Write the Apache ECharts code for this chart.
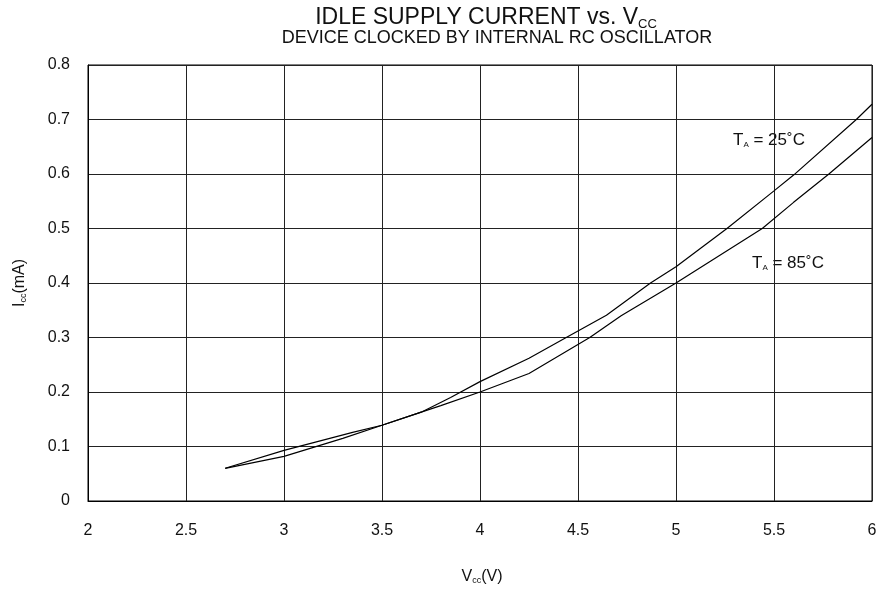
<!DOCTYPE html>
<html><head><meta charset="utf-8">
<script src="https://cdn.jsdelivr.net/npm/echarts@6/dist/echarts.min.js"></script>
<style>html,body{margin:0;padding:0;background:#fff}#c{width:888px;height:594px}</style>
</head><body><div id="c"></div>
<script>
const xTicks = [2, 2.5, 3, 3.5, 4, 4.5, 5, 5.5, 6];
const yTicks = [0, 0.1, 0.2, 0.3, 0.4, 0.5, 0.6, 0.7, 0.8];
const vcc25 = [2.7, 3.0, 3.35, 3.5, 3.7, 3.85, 4.0, 4.25, 4.44, 4.645, 4.87, 5.0, 5.26, 5.5, 5.6, 5.92, 6.0];
const icc25 = [0.06, 0.093, 0.126, 0.139, 0.163, 0.19, 0.219, 0.262, 0.30, 0.341, 0.40, 0.43, 0.50, 0.569, 0.598, 0.70, 0.728];
const vcc85 = [2.7, 3.0, 3.3, 3.5, 3.7, 3.8, 4.0, 4.25, 4.56, 4.72, 5.0, 5.44, 5.6, 5.78, 6.0];
const icc85 = [0.06, 0.082, 0.115, 0.139, 0.163, 0.175, 0.20, 0.234, 0.30, 0.34, 0.40, 0.50, 0.548, 0.60, 0.667];
const seriesNames = ['T_A = 25°C', 'T_A = 85°C'];

const chart = echarts.init(document.getElementById('c'), null, {renderer: 'canvas'});
const font = 'Liberation Sans, Arial, Helvetica, sans-serif';
const pair = (xs, ys) => xs.map((x, i) => [x, ys[i]]);
const sub = (fs, sfs, pad) => ({
  m: {fontSize: fs, fontFamily: font, fill: '#111'},
  s: {fontSize: sfs, fontFamily: font, fill: '#111', padding: [pad, 0, 0, 0]}
});
chart.setOption({
  animation: false,
  backgroundColor: '#fff',
  grid: {left: 88, right: 16, top: 65, bottom: 93, show: true, borderColor: '#000', borderWidth: 1, backgroundColor: 'transparent'},
  xAxis: {
    type: 'value', min: xTicks[0], max: xTicks[xTicks.length - 1], interval: 0.5,
    axisLine: {show: true, lineStyle: {color: '#000', width: 1}},
    axisTick: {show: false},
    splitLine: {show: true, lineStyle: {color: '#222', width: 1}},
    axisLabel: {color: '#111', fontSize: 16, fontFamily: font, margin: 22}
  },
  yAxis: {
    type: 'value', min: yTicks[0], max: yTicks[yTicks.length - 1], interval: 0.1,
    axisLine: {show: true, lineStyle: {color: '#000', width: 1}},
    axisTick: {show: false},
    splitLine: {show: true, lineStyle: {color: '#222', width: 1}},
    axisLabel: {color: '#111', fontSize: 16, fontFamily: font, margin: 18, formatter: v => (Math.round(v * 10) / 10).toString()}
  },
  series: [
    {name: seriesNames[0], type: 'line', data: pair(vcc25, icc25), showSymbol: false, smooth: false, lineStyle: {color: '#000', width: 1.2}},
    {name: seriesNames[1], type: 'line', data: pair(vcc85, icc85), showSymbol: false, smooth: false, lineStyle: {color: '#000', width: 1.2}}
  ],
  graphic: [
    {type: 'text', x: 486, y: 18, style: {
      text: '{m|IDLE SUPPLY CURRENT vs. V}{s|CC}', align: 'center', verticalAlign: 'middle',
      rich: sub(23, 13, 12)
    }},
    {type: 'text', x: 497, y: 38, style: {
      text: 'DEVICE CLOCKED BY INTERNAL RC OSCILLATOR', align: 'center', verticalAlign: 'middle',
      font: '18px ' + font, fill: '#111'
    }},
    {type: 'text', x: 482, y: 577, style: {
      text: '{m|V}{s|cc}{m|(V)}', align: 'center', verticalAlign: 'middle',
      rich: sub(16, 9, 8)
    }},
    {type: 'text', x: 20, y: 283, rotation: Math.PI / 2, style: {
      text: '{m|I}{s|cc}{m|(mA)}', align: 'center', verticalAlign: 'middle',
      rich: sub(16, 9, 8)
    }},
    {type: 'text', x: 733, y: 140, style: {
      text: '{m|T}{s|A}{m| = 25˚C}', align: 'left', verticalAlign: 'middle',
      rich: sub(17, 8, 9)
    }},
    {type: 'text', x: 752, y: 263, style: {
      text: '{m|T}{s|A}{m| = 85˚C}', align: 'left', verticalAlign: 'middle',
      rich: sub(17, 8, 9)
    }}
  ]
});
</script></body></html>
